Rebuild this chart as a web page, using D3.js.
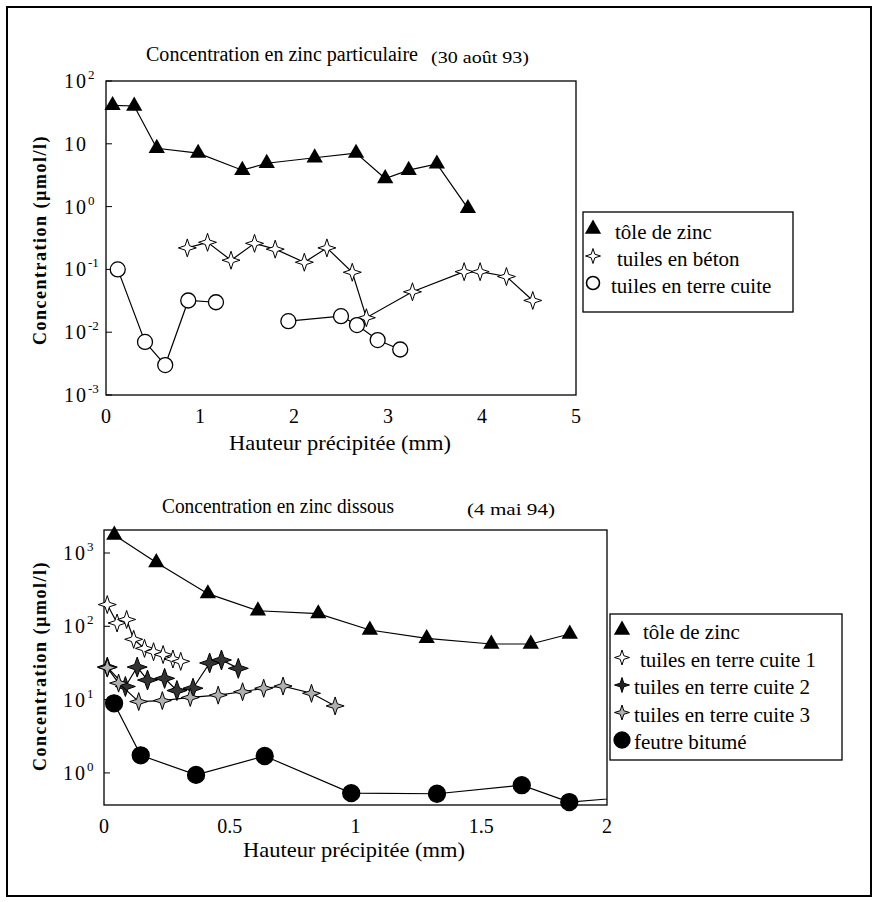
<!DOCTYPE html>
<html>
<head>
<meta charset="utf-8">
<script src="https://cdn.jsdelivr.net/npm/d3@7.9.0/dist/d3.min.js"></script>
<style>
  body { margin: 0; background: #fff; }
  svg { display: block; font-family: "Liberation Serif", "Times New Roman", serif; }
</style>
</head>
<body>
<svg id="chart" width="879" height="902"></svg>
<script>
// ---- top panel: particulate zinc (30 août 93) ----
const topToleX = [0.07, 0.30, 0.54, 0.98, 1.45, 1.71, 2.22, 2.66, 2.97, 3.22, 3.52, 3.85];
const topToleY = [41, 40, 8.5, 7.1, 3.8, 4.9, 6.0, 7.1, 2.8, 3.8, 4.8, 0.94];
const topBetonX = [0.865, 1.08, 1.33, 1.58, 1.80, 2.11, 2.35, 2.62, 2.77, 3.26, 3.81, 3.98, 4.26, 4.54];
const topBetonY = [0.22, 0.27, 0.14, 0.26, 0.21, 0.13, 0.22, 0.09, 0.017, 0.044, 0.092, 0.092, 0.077, 0.032];
// null = break in the line
const topTerreX = [0.125, 0.415, 0.63, 0.875, 1.17, null, 1.94, 2.50, 2.67, 2.89, 3.13];
const topTerreY = [0.10, 0.007, 0.003, 0.032, 0.030, null, 0.015, 0.018, 0.013, 0.0075, 0.0053];

const topYTicks = [1e2, 10, 1, 1e-1, 1e-2, 1e-3];
const topYExp = ["2", "", "0", "-1", "-2", "-3"];
const topXTicks = [0, 1, 2, 3, 4, 5];
const topXLabels = ["0", "1", "2", "3", "4", "5"];
const topLegend = ["tôle de zinc", "tuiles en béton", "tuiles en terre cuite"];

// ---- bottom panel: dissolved zinc (4 mai 94) ----
const botToleX = [0.041, 0.208, 0.413, 0.612, 0.852, 1.057, 1.283, 1.54, 1.697, 1.852];
const botToleY = [1760, 742, 279, 163, 149, 89, 68.6, 57.4, 57.4, 78.5];
const botTerre1X = [0.013, 0.052, 0.090, 0.118, 0.161, 0.197, 0.235, 0.274, 0.305];
const botTerre1Y = [198, 111, 124, 66.5, 50, 45, 41.2, 35.8, 33.3];
const botTerre2X = [0.013, 0.085, 0.132, 0.173, 0.241, 0.290, 0.354, 0.420, 0.467, 0.534];
const botTerre2Y = [27.8, 15.1, 27.8, 18.5, 19.5, 13.3, 14.3, 31.6, 34.7, 26.7];
const botTerre3X = [0.013, 0.058, 0.138, 0.232, 0.343, 0.454, 0.551, 0.635, 0.712, 0.825, 0.919];
const botTerre3Y = [27.3, 16.8, 9.4, 9.7, 10.7, 11.5, 12.8, 14.3, 15.3, 12.2, 8.2];
const botFeutreX = [0.040, 0.146, 0.366, 0.639, 0.983, 1.324, 1.661, 1.85, 2.1];
const botFeutreY = [8.9, 1.74, 0.94, 1.70, 0.53, 0.52, 0.68, 0.40, 0.47];

const botYTicks = [1e3, 1e2, 1e1, 1e0];
const botYExp = ["3", "2", "1", "0"];
const botXTicks = [0, 0.5, 1, 1.5, 2];
const botXLabels = ["0", "0.5", "1", "1.5", "2"];
const botLegend = ["tôle de zinc", "tuiles en terre cuite 1", "tuiles en terre cuite 2",
                   "tuiles en terre cuite 3", "feutre bitumé"];

const svg = d3.select("#chart");

// outer frame
svg.append("rect")
    .attr("x", 7).attr("y", 7)
    .attr("width", 864).attr("height", 889)
    .attr("fill", "none").attr("stroke", "#000").attr("stroke-width", 2);

function starPath(r, k) {
    return `M0,${-r}L${k},${-k}L${r},0L${k},${k}L0,${r}L${-k},${k}L${-r},0L${-k},${-k}Z`;
}

// one marker at (cx, cy)
function drawMarker(g, m, cx, cy) {
    if (m.type === "triangle") {
        g.append("path")
            .attr("d", d3.symbol(d3.symbolTriangle, m.size)())
            .attr("transform", `translate(${cx},${cy})`)
            .attr("fill", m.fill);
    } else if (m.type === "circle") {
        g.append("circle")
            .attr("cx", cx).attr("cy", cy).attr("r", m.r)
            .attr("fill", m.fill)
            .attr("stroke", "#000").attr("stroke-width", m.sw || 1.3);
    } else {
        g.append("path")
            .attr("d", starPath(m.r, m.k))
            .attr("transform", `translate(${cx},${cy})`)
            .attr("fill", m.fill)
            .attr("stroke", "#000").attr("stroke-width", 1)
            .attr("stroke-linejoin", "miter");
    }
}

function tickLabel(g, x, y, exp, size) {
    const t = g.append("text")
        .attr("x", x).attr("y", y)
        .attr("font-size", size)
        .attr("letter-spacing", 2);
    t.append("tspan").text("10");
    if (exp) {
        t.append("tspan")
            .attr("dy", -9)
            .attr("font-size", 13)
            .attr("letter-spacing", 0)
            .text(exp);
    }
}

function drawPanel(cfg) {
    const x = d3.scaleLinear().domain(cfg.xDomain).range([cfg.left, cfg.right]);
    const y = d3.scaleLog().domain(cfg.yDomain).range([cfg.bottom, cfg.top]);
    const g = svg.append("g");

    // plot frame
    g.append("rect")
        .attr("x", cfg.left).attr("y", cfg.top)
        .attr("width", cfg.right - cfg.left).attr("height", cfg.bottom - cfg.top)
        .attr("fill", "none").attr("stroke", "#000").attr("stroke-width", 1.3);

    // y ticks (inside) and labels
    cfg.yTicks.forEach((v, i) => {
        g.append("line")
            .attr("x1", cfg.left).attr("x2", cfg.left + 6)
            .attr("y1", y(v)).attr("y2", y(v))
            .attr("stroke", "#000").attr("stroke-width", 1);
        tickLabel(g, cfg.yLabelX, y(v) + 7, cfg.yExp[i], 20);
    });

    // x tick labels
    cfg.xTicks.forEach((v, i) => {
        g.append("text")
            .attr("x", x(v)).attr("y", cfg.bottom + 28)
            .attr("text-anchor", "middle")
            .attr("font-size", 20)
            .text(cfg.xLabels[i]);
    });

    // titles
    g.append("text")
        .attr("x", cfg.titleX).attr("y", cfg.titleY)
        .attr("font-size", 20)
        .attr("textLength", cfg.titleLen)
        .attr("lengthAdjust", "spacingAndGlyphs")
        .text(cfg.title);
    g.append("text")
        .attr("x", cfg.dateX).attr("y", cfg.titleY + 2)
        .attr("font-size", 16)
        .attr("textLength", cfg.dateLen)
        .attr("lengthAdjust", "spacingAndGlyphs")
        .text(cfg.date);

    g.append("text")
        .attr("x", cfg.xTitleX).attr("y", cfg.bottom + cfg.xTitleDy)
        .attr("font-size", 21)
        .attr("textLength", 222)
        .attr("lengthAdjust", "spacingAndGlyphs")
        .text("Hauteur précipitée (mm)");

    g.append("text")
        .attr("transform", `translate(${cfg.yTitleX},${cfg.yTitleY}) rotate(-90)`)
        .attr("text-anchor", "middle")
        .attr("font-size", 18)
        .attr("font-weight", "bold")
        .attr("letter-spacing", 1.5)
        .text("Concentration (µmol/l)");

    // clip for lines
    const clipId = "clip-" + cfg.id;
    svg.append("clipPath").attr("id", clipId)
        .append("rect")
        .attr("x", cfg.left).attr("y", cfg.top - 20)
        .attr("width", cfg.right - cfg.left).attr("height", cfg.bottom - cfg.top + 20);

    const line = d3.line()
        .defined(d => d.x != null && d.y != null)
        .x(d => x(d.x))
        .y(d => y(d.y));

    cfg.series.forEach(s => {
        const pts = s.xs.map((v, i) => ({ x: v, y: s.ys[i] }));
        g.append("path")
            .datum(pts)
            .attr("clip-path", `url(#${clipId})`)
            .attr("fill", "none")
            .attr("stroke", "#000")
            .attr("stroke-width", 1.2)
            .attr("d", line);
        pts.forEach(p => {
            if (p.x == null || p.y == null || p.x > cfg.xDomain[1]) return;
            drawMarker(g, s.marker, x(p.x), y(p.y));
        });
    });

    // legend
    const L = cfg.legend;
    g.append("rect")
        .attr("x", L.x).attr("y", L.y)
        .attr("width", L.w).attr("height", L.h)
        .attr("fill", "#fff").attr("stroke", "#000").attr("stroke-width", 1.3);
    cfg.legendLabels.forEach((lab, i) => {
        const yy = L.y0 + i * L.step;
        drawMarker(g, cfg.series[i].legendMarker || cfg.series[i].marker, L.mx, yy);
        g.append("text")
            .attr("x", L.tx[i]).attr("y", yy + L.textDy)
            .attr("font-size", 21)
            .text(lab);
    });
}

const triangle = { type: "triangle", size: 115, fill: "#000" };

drawPanel({
    id: "top",
    left: 106, right: 576, top: 81, bottom: 395,
    xDomain: [0, 5], yDomain: [1e-3, 1e2],
    yTicks: topYTicks, yExp: topYExp, yLabelX: 64,
    xTicks: topXTicks, xLabels: topXLabels,
    title: "Concentration en zinc particulaire", titleX: 146, titleY: 61, titleLen: 272,
    date: "(30 août 93)", dateX: 431, dateLen: 98,
    xTitleX: 229, xTitleDy: 55, yTitleX: 46, yTitleY: 240,
    series: [
        { xs: topToleX, ys: topToleY, marker: triangle },
        { xs: topBetonX, ys: topBetonY, marker: { type: "star", r: 9, k: 2.2, fill: "#fff" },
          legendMarker: { type: "star", r: 7.5, k: 1.8, fill: "#fff" } },
        { xs: topTerreX, ys: topTerreY, marker: { type: "circle", r: 7.5, fill: "#fff" },
          legendMarker: { type: "circle", r: 6.5, fill: "#fff", sw: 1.6 } }
    ],
    legendLabels: topLegend,
    legend: { x: 583, y: 212, w: 210, h: 100, y0: 229, step: 27, mx: 593,
              tx: [615, 617, 611], textDy: 10 }
});

drawPanel({
    id: "bot",
    left: 104, right: 607, top: 530, bottom: 805,
    xDomain: [0, 2], yDomain: [0.365, 2060],
    yTicks: botYTicks, yExp: botYExp, yLabelX: 63,
    xTicks: botXTicks, xLabels: botXLabels,
    title: "Concentration en zinc dissous", titleX: 162, titleY: 513, titleLen: 232,
    date: "(4 mai 94)", dateX: 467, dateLen: 88,
    xTitleX: 243, xTitleDy: 52, yTitleX: 46, yTitleY: 666,
    series: [
        { xs: botToleX, ys: botToleY, marker: triangle },
        { xs: botTerre1X, ys: botTerre1Y, marker: { type: "star", r: 9, k: 2.2, fill: "#fff" },
          legendMarker: { type: "star", r: 7.5, k: 1.8, fill: "#fff" } },
        { xs: botTerre2X, ys: botTerre2Y, marker: { type: "star", r: 10, k: 2.6, fill: "#333" },
          legendMarker: { type: "star", r: 7.5, k: 1.8, fill: "#222" } },
        { xs: botTerre3X, ys: botTerre3Y, marker: { type: "star", r: 9, k: 2.2, fill: "#b0b0b0" },
          legendMarker: { type: "star", r: 7.5, k: 1.8, fill: "#b0b0b0" } },
        { xs: botFeutreX, ys: botFeutreY, marker: { type: "circle", r: 8.5, fill: "#000", sw: 0 },
          legendMarker: { type: "circle", r: 8, fill: "#000", sw: 0 } }
    ],
    legendLabels: botLegend,
    legend: { x: 610, y: 614, w: 232, h: 146, y0: 630, step: 27.5, mx: 622,
              tx: [643, 640, 634, 634, 634], textDy: 9 }
});
</script>
</body>
</html>
